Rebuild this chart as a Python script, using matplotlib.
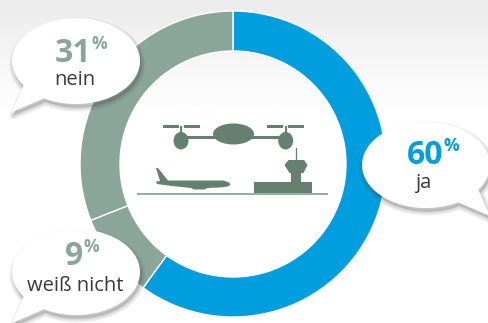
import numpy as np
import matplotlib
matplotlib.use("Agg")
import matplotlib.pyplot as plt
from matplotlib.patches import Ellipse, Polygon, Rectangle

plt.rcParams["font.family"] = ["Open Sans", "DejaVu Sans"]

# survey result, clockwise from twelve o'clock
shares = [60, 9, 31]
answers = ["ja", "weiß nicht", "nein"]

BLUE = "#009ddf"
SAGE = "#8aa69b"
ICON = "#66806f"
TEXT = "#3a3a3a"


def bubble_outline(cx, cy, rx, ry, side):
    """Ellipse with a speech tail at the lower left (side=-1) or lower right (side=1)"""
    t = np.deg2rad(np.linspace(145, 480, 160))
    arc = np.column_stack([cx - side * rx * np.cos(t), cy + ry * np.sin(t)])
    tip = np.array([[cx + side * 64, cy + 51]])
    return np.vstack([arc, tip])


def draw_bubble(ax, cx, cy, side):
    pts = bubble_outline(cx, cy, 64, 43, side)
    # soft shadow from stacked transparent outlines
    for lw in [6, 4.5, 3, 1.5]:
        ax.add_patch(Polygon(pts + [1.5, 3.5], closed=True, fc="#444444", ec="#444444",
                             lw=lw, alpha=0.06, joinstyle="round", zorder=3))
    ax.add_patch(Polygon(pts, closed=True, fc="white", ec="none", zorder=4))


def draw_label(ax, x, y, value, answer, colour, label_x, label_y):
    ax.text(x, y, str(value), color=colour, fontsize=23, fontweight="bold",
            ha="right", va="baseline", zorder=5)
    ax.text(x + 1, y - 13, "%", color=colour, fontsize=12.5, fontweight="bold",
            ha="left", va="baseline", zorder=5)
    ax.text(label_x, label_y, answer, color=TEXT, fontsize=14.5,
            ha="center", va="baseline", zorder=5)


def draw_drone(ax):
    ax.add_patch(Ellipse((233.5, 134), 41, 21, fc=ICON, ec="none", zorder=2))
    ax.add_patch(Rectangle((181, 136.3), 105, 3, fc=ICON, ec="none", zorder=2))
    for x in [181, 285.7]:
        ax.add_patch(Ellipse((x, 140.7), 15, 17.5, fc=ICON, ec="none", zorder=2))
        ax.add_patch(Rectangle((x - 1, 126), 2, 8, fc=ICON, ec="none", zorder=2))
        ax.add_patch(Rectangle((x - 18.5, 125.2), 16, 2.4, fc=ICON, ec="none", zorder=2))
        ax.add_patch(Rectangle((x + 2.5, 125.2), 16, 2.4, fc=ICON, ec="none", zorder=2))


def draw_airport(ax):
    ax.plot([137, 328], [193.5, 193.5], color=SAGE, lw=1.3, zorder=2, solid_capstyle="butt")
    plane = [(156, 168), (158, 168), (168, 180.5), (224, 180.5), (229, 182.5), (230.5, 184.5),
             (228, 186.5), (220, 187.5), (207, 188), (205, 189.5), (194, 189.5), (191, 188),
             (172, 186), (157, 184), (156, 181.5), (160, 181)]
    ax.add_patch(Polygon(plane, closed=True, fc=ICON, ec="none", zorder=2))
    ax.add_patch(Rectangle((254, 182), 58, 11, fc=ICON, ec="none", zorder=2))
    ax.add_patch(Rectangle((291, 172), 10, 10, fc=ICON, ec="none", zorder=2))
    cab = [(284.5, 165), (288.5, 160), (304, 160), (307.5, 165), (303.5, 173), (289.5, 173)]
    ax.add_patch(Polygon(cab, closed=True, fc=ICON, ec="none", zorder=2))
    ax.plot([296, 296], [148, 160], color=ICON, lw=0.9, zorder=2)


fig = plt.figure(figsize=(4.89, 3.23), dpi=100)
ax = fig.add_axes([0, 0, 1, 1])

# pale grey fade at the top edge
fade = np.clip(np.linspace(0, 1, 323) / 0.36, 0, 1)[:, None]
ax.imshow(0.92 + 0.08 * fade, cmap="gray", vmin=0, vmax=1, extent=(0, 489, 323, 0),
          aspect="auto", zorder=0)

# the y axis points down, so counterclock runs clockwise on screen
ax.pie(shares, colors=[BLUE, SAGE, SAGE], center=(233, 164), radius=153, startangle=-90,
       counterclock=True, wedgeprops=dict(width=40, edgecolor="white", linewidth=1))
for w in ax.patches:
    w.set_zorder(1)

draw_drone(ax)
draw_airport(ax)

draw_bubble(ax, 76, 61, -1)
draw_bubble(ax, 76, 272, -1)
draw_bubble(ax, 426, 165, 1)

draw_label(ax, 91, 62, shares[2], answers[2], SAGE, 75, 85)
draw_label(ax, 83, 265, shares[1], answers[1], SAGE, 75, 291)
draw_label(ax, 443, 164, shares[0], answers[0], BLUE, 423, 188)

ax.set_xlim(0, 489)
ax.set_ylim(323, 0)
ax.set_aspect("auto")
ax.axis("off")

fig.savefig("out.png", dpi=100)
